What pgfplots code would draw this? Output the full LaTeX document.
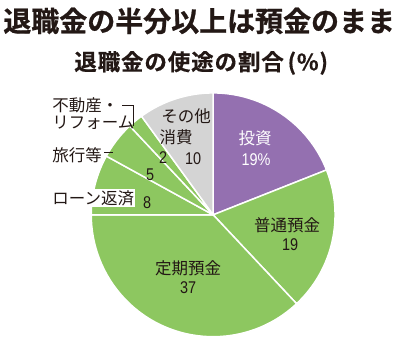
\documentclass[border=0pt]{standalone}
\usepackage{pgfplots}
\pgfplotsset{compat=1.18}
\usepackage{pgfplotstable}
\usepackage{fontspec}
\setmainfont{Noto Sans CJK JP}
\newfontfamily\titlefont{Noto Sans CJK JP Bold}[FakeBold=0.8]
\newfontfamily\subfont{Noto Sans CJK JP Bold}[LetterSpace=4,FakeBold=0.4]
\newfontfamily\numfont{Liberation Sans}[FakeStretch=0.85]
\definecolor{pur}{HTML}{9470B0}
\definecolor{grn}{HTML}{8DC760}
\definecolor{gry}{HTML}{D4D4D4}
\definecolor{txt}{HTML}{231815}

\pgfplotstableread{
label value
toushi 19
futsuu 19
teiki 37
loan 8
ryokou 5
fudousan 2
sonota 10
}\piedata

\def\piecolors{{"pur","grn","grn","grn","grn","grn","gry"}}
\gdef\cum{0}

\begin{document}
\begin{tikzpicture}
\begin{axis}[
  scale only axis, width=400pt, height=357pt,
  xmin=0, xmax=400, ymin=0, ymax=357,
  hide axis, clip=false,
]
\path (axis cs:0,0) rectangle (axis cs:400,357);
\pgfplotsinvokeforeach{0,...,6}{%
  \pgfplotstablegetelem{#1}{value}\of\piedata
  \let\v=\pgfplotsretval
  \pgfmathsetmacro\sa{90-3.6*\cum}%
  \pgfmathsetmacro\ea{90-3.6*(\cum+\v)}%
  \pgfmathsetmacro\newcum{\cum+\v}%
  \xdef\cum{\newcum}%
  \pgfmathsetmacro\px{213+122*cos(\sa)}%
  \pgfmathsetmacro\py{142+122*sin(\sa)}%
  \pgfmathsetmacro\col{\piecolors[#1]}%
  \edef\cmd{\noexpand\filldraw[fill=\col, draw=white, line width=1.5pt, line join=round] (axis cs:213,142) -- (axis cs:\px,\py) arc[start angle=\sa, end angle=\ea, radius=122pt] -- cycle;}%
  \cmd
}
% titles
\node[text=txt, font=\titlefont\fontsize{28}{30}\selectfont] at (axis cs:199,336) {退職金の半分以上は預金のまま};
\node[text=txt, font=\subfont\fontsize{22.5}{24}\selectfont] at (axis cs:201,294) {退職金の使途の割合\,(\%)};
% inside labels
\tikzset{lab/.style={text=txt, font=\fontsize{16.5}{18}\selectfont, inner sep=0pt},
         num/.style={text=txt, font=\numfont\fontsize{17}{18}\selectfont, inner sep=0pt}}
\node[lab, text=white] at (axis cs:255,219) {投資};
\node[num, text=white] at (axis cs:256,197) {19\%};
\node[lab] at (axis cs:287,132) {普通預金};
\node[num] at (axis cs:290,112) {19};
\node[lab] at (axis cs:188,89) {定期預金};
\node[num] at (axis cs:188,69) {37};
\node[lab] at (axis cs:186,241) {その他};
\node[lab] at (axis cs:176,220) {消費};
\node[num] at (axis cs:193,198) {10};
\node[num] at (axis cs:163,199) {2};
\node[num] at (axis cs:150,182) {5};
\node[num] at (axis cs:147,154) {8};
% outside labels
\node[lab, anchor=west, fill=white, inner sep=1pt] at (axis cs:51,159) {ローン返済};
\node[lab, anchor=west] at (axis cs:52,202) {旅行等};
\node[lab, anchor=west] at (axis cs:52,252) {不動産・};
\node[lab, anchor=west] at (axis cs:52,234) {リフォーム};
\draw[txt, line width=0.7pt] (axis cs:104,205) -- (axis cs:113,205);
\draw[txt, line width=0.7pt] (axis cs:122,252) -- (axis cs:133,252) -- (axis cs:133,231);
\end{axis}
\end{tikzpicture}
\end{document}
